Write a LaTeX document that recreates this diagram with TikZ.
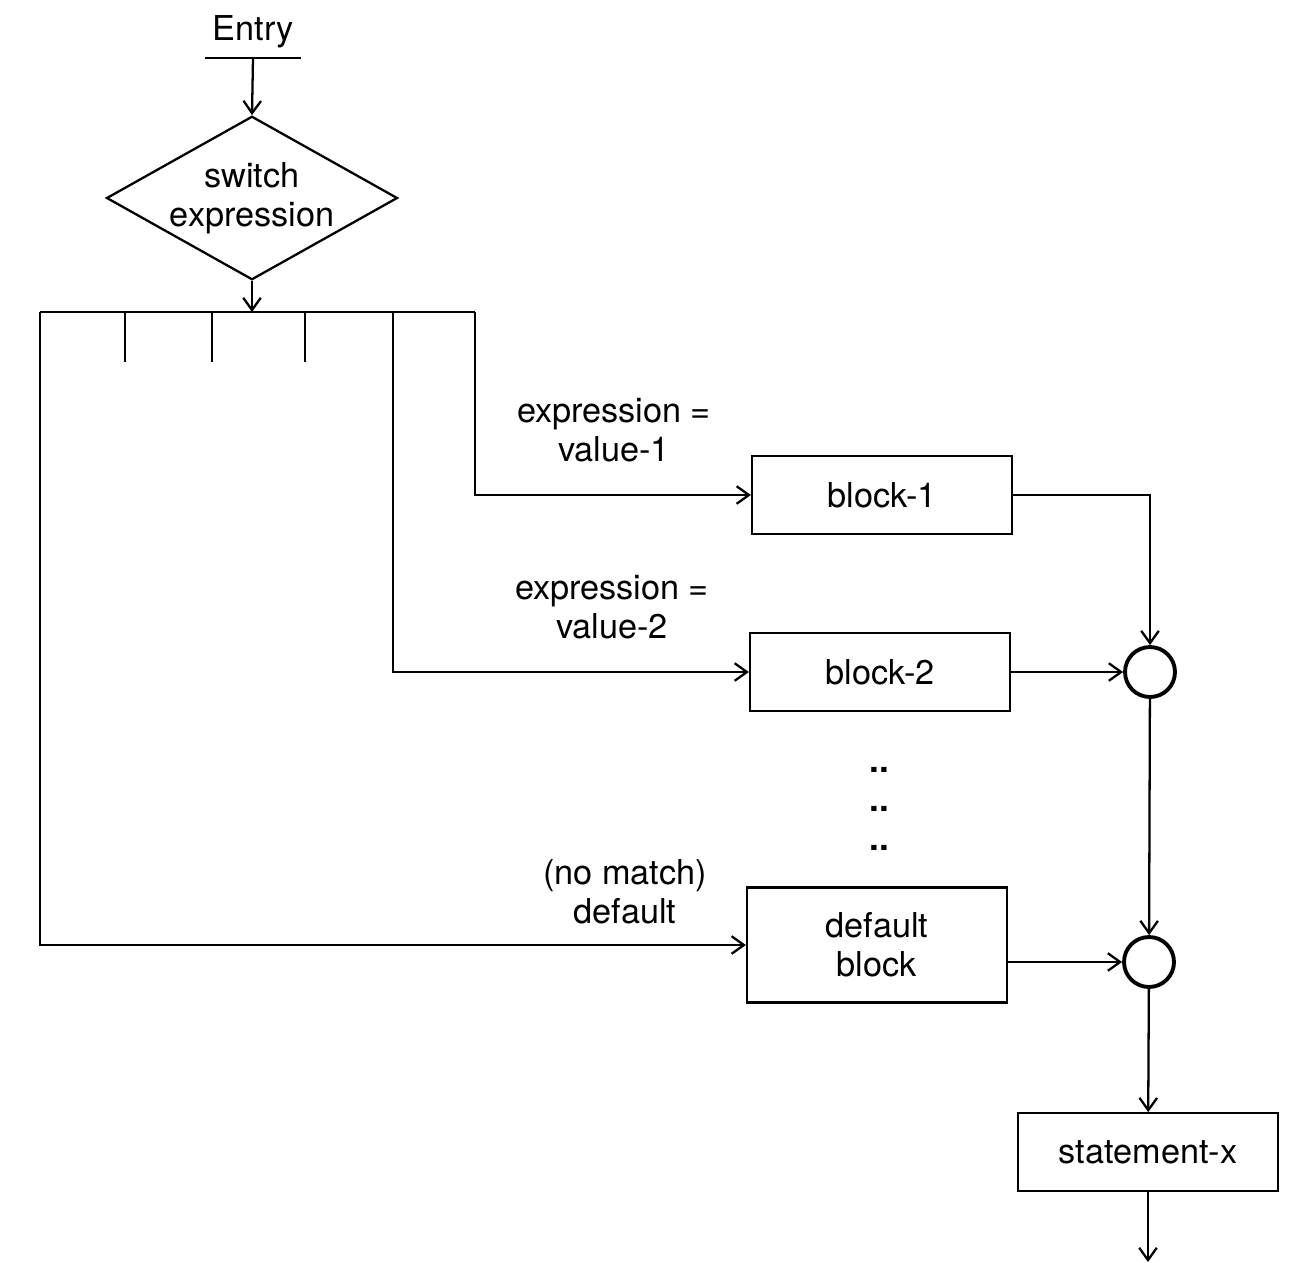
\documentclass[tikz,border=0pt]{standalone}
\usepackage{fontspec}
\setmainfont{TeX Gyre Heros}
\usetikzlibrary{arrows.meta, positioning, shapes.geometric}

\begin{document}
\begin{tikzpicture}[x=0.02cm, y=-0.02cm, line width=1.3pt,
    font=\fontsize{19.5pt}{22pt}\selectfont,
    flow/.style={-{Straight Barb[length=7pt, width=10pt, line width=1.3pt]}},
    blockbox/.style={draw, rectangle, minimum width=5.2cm, minimum height=1.55cm,
                     inner sep=0pt, align=center},
    joint/.style={draw, circle, line width=2.2pt, minimum size=1cm, inner sep=0pt},
    caselabel/.style={align=center, inner sep=0pt}]
    \useasboundingbox (0,0) rectangle (1308,1262);

    % entry point
    \node[anchor=south, minimum width=1.86cm, inner xsep=0pt, inner ysep=5pt] (entry) at (253,58) {Entry};
    \draw (entry.south west) -- (entry.south east);

    % switch diamond
    \node[draw, diamond, aspect=1.78, minimum width=5.7cm, minimum height=3.2cm,
          inner sep=0pt, align=center] (switch) at (252,198) {switch\\expression};
    \draw[flow] (entry.south) -- (switch.north);

    % case bar
    \coordinate (barL) at (40,312);
    \coordinate (barIn) at (252,312);
    \coordinate (barM) at (393,312);
    \coordinate (barR) at (475,312);
    \draw[flow] (switch.south) -- (barIn);
    \draw (barL) -- (barR);
    \foreach \tx in {125,212,305}
        \draw (\tx,312) -- (\tx,362);

    % blocks
    \node[blockbox] (block1) at (882,495) {block-1};
    \node[blockbox] (block2) at (880,672) {block-2};
    \node[blockbox, minimum height=2.3cm] (defblk) at (877,945) {default\\block};

    % joins and exit
    \node[joint] (join1) at (1150,672) {};
    \node[joint] (join2) at (1149,962) {};
    \node[blockbox] (stmtx) at (1148,1152) {statement-x};
    \coordinate (exit) at (1148,1262);

    % branches
    \draw[flow] (barR) |- (block1);
    \draw[flow] (barM) |- (block2);
    \draw[flow] (barL) |- (defblk);

    \draw[flow] (block1) -| (join1);
    \draw[flow] (block2) -- (join1);
    \draw[flow] (join1) -- (join2);
    \draw[flow] (defblk.east |- join2) -- (join2);
    \draw[flow] (join2) -- (stmtx);
    \draw[flow] (stmtx) -- (exit);

    % labels
    \node[caselabel] (lbl1) at (614,430) {expression =\\value-1};
    \node[caselabel] (lbl2) at (612,607) {expression =\\value-2};
    \node[caselabel] (lbl3) at (625,892) {(no match)\\default};
    \node[caselabel, font=\fontsize{20pt}{22pt}\selectfont\bfseries] (dots) at (879,809) {..\\..\\..};
\end{tikzpicture}
\end{document}
